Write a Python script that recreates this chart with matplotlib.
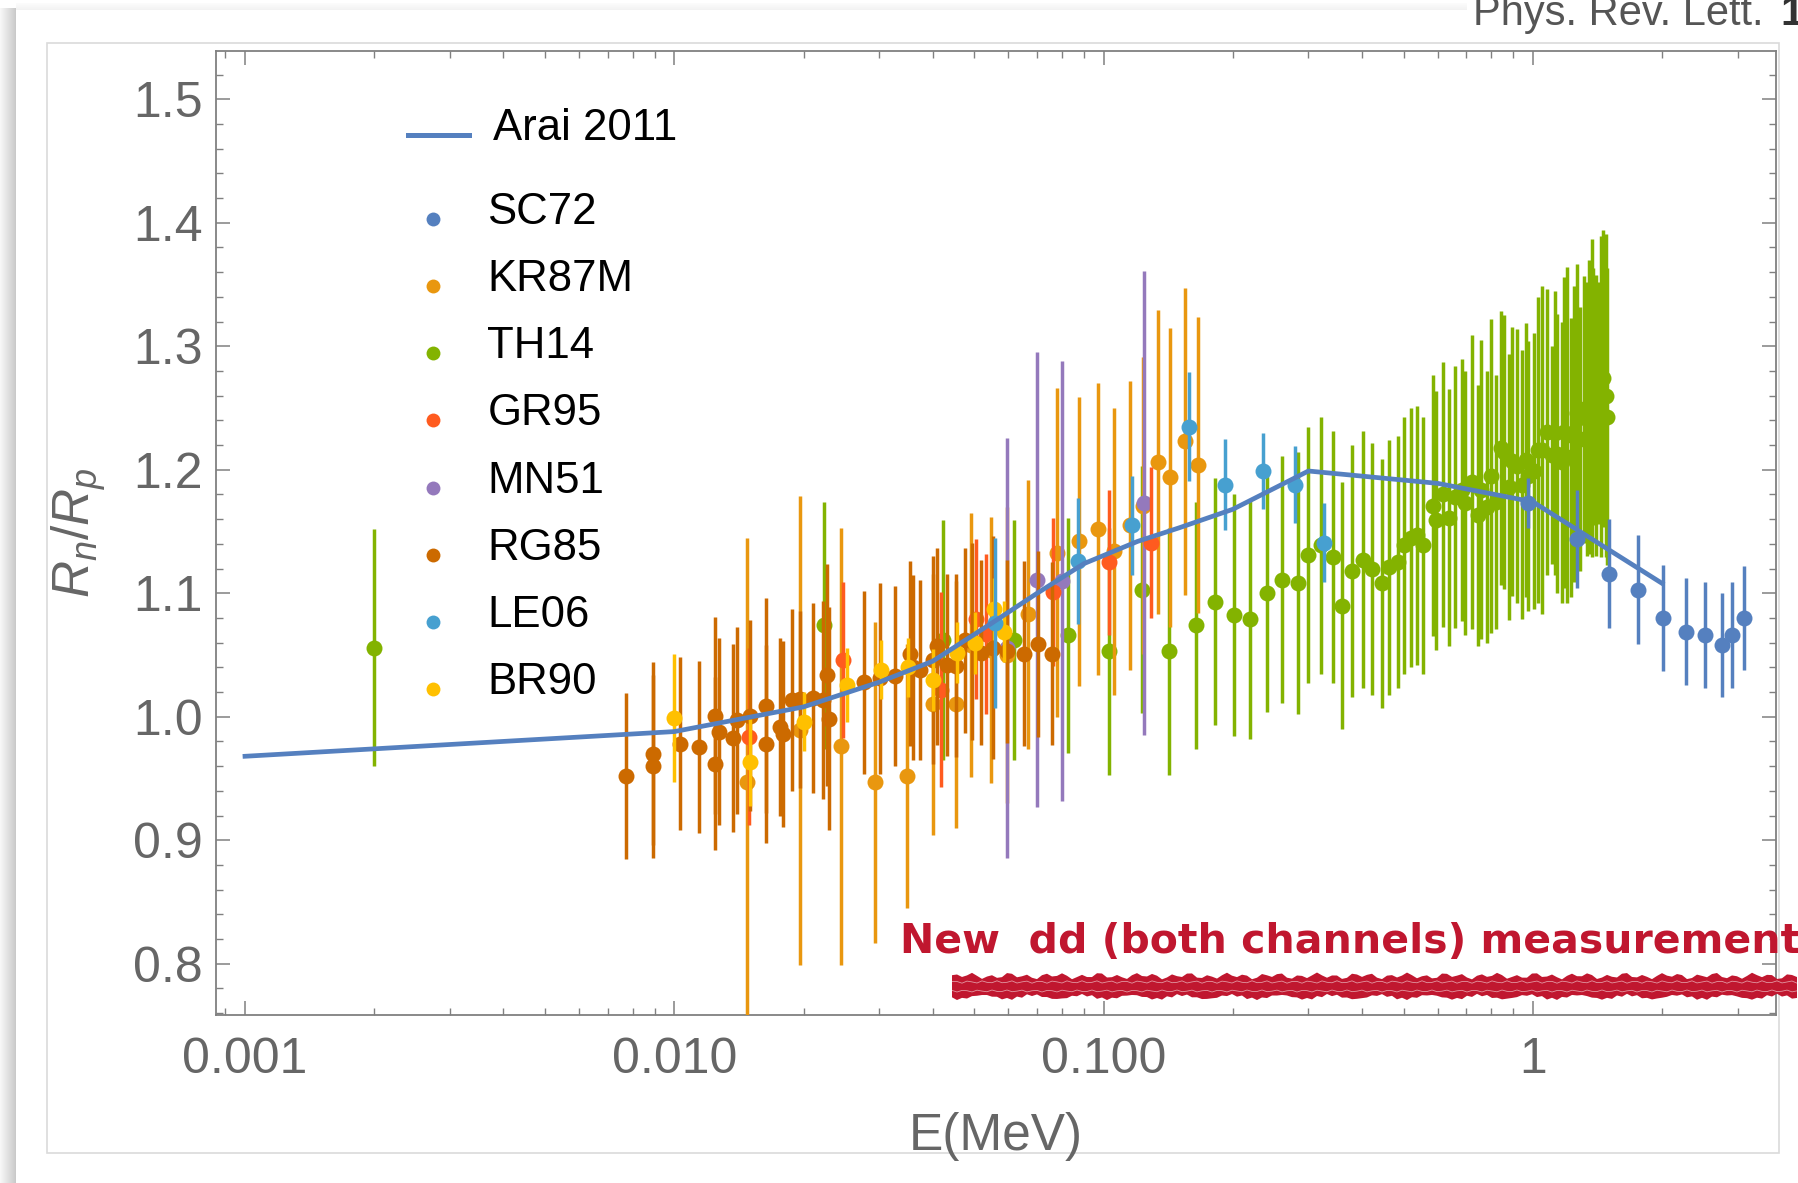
import matplotlib
matplotlib.use('Agg')
import matplotlib.pyplot as plt
from matplotlib.lines import Line2D
from matplotlib.patches import Rectangle, Polygon
from matplotlib.ticker import FixedLocator, FixedFormatter, NullFormatter
import numpy as np

plt.rcParams['font.family'] = ['Liberation Sans', 'DejaVu Sans']
plt.rcParams['mathtext.fontset'] = 'custom'
plt.rcParams['mathtext.it'] = 'Liberation Sans:italic'
plt.rcParams['mathtext.rm'] = 'Liberation Sans'

# ---------------- data ----------------
arai_E = [0.001, 0.01, 0.02, 0.03, 0.04, 0.055, 0.07, 0.09, 0.12, 0.15, 0.2, 0.3, 0.6, 1.0, 2.0]
arai_R = [0.968, 0.988, 1.008, 1.028, 1.045, 1.076, 1.100, 1.124, 1.142, 1.153, 1.168, 1.199, 1.189, 1.174, 1.108]

sc72_E = [0.976, 1.265, 1.507, 1.760, 2.013, 2.273, 2.517, 2.752, 2.903, 3.102]
sc72_R = [1.173, 1.144, 1.116, 1.103, 1.080, 1.069, 1.066, 1.058, 1.066, 1.080]
sc72_err = [0.02, 0.04, 0.044, 0.044, 0.043, 0.043, 0.043, 0.042, 0.043, 0.042]

kr87m_E = [0.0148, 0.0196, 0.0244, 0.0294, 0.0349, 0.0401, 0.0453, 0.0492, 0.0547, 0.0595,
           0.0665, 0.078, 0.0876, 0.097, 0.106, 0.1155, 0.1235, 0.134, 0.1427, 0.155, 0.1656]
kr87m_R = [0.947, 0.989, 0.976, 0.947, 0.952, 1.010, 1.010, 1.058, 1.054, 1.050,
           1.083, 1.133, 1.142, 1.152, 1.134, 1.155, 1.171, 1.206, 1.194, 1.223, 1.204]
kr87m_err = [0.198, 0.19, 0.177, 0.13, 0.107, 0.106, 0.10, 0.107, 0.108, 0.12,
             0.109, 0.133, 0.117, 0.118, 0.116, 0.117, 0.12, 0.123, 0.121, 0.124, 0.12]

th14_E = [0.002, 0.0223, 0.0423, 0.0618, 0.0828, 0.103, 0.1226, 0.142, 0.164, 0.1817,
          0.201, 0.219, 0.240, 0.261, 0.284, 0.300, 0.321, 0.343, 0.360, 0.380,
          0.401, 0.422, 0.444, 0.461, 0.484, 0.501, 0.519, 0.536, 0.556, 0.584,
          0.594, 0.616, 0.638, 0.658,
          0.683, 0.695, 0.720, 0.744, 0.757, 0.781, 0.799, 0.821, 0.842, 0.857,
          0.882, 0.893, 0.917, 0.942, 0.962, 0.976, 1.006, 1.026, 1.048, 1.081,
          1.106, 1.127, 1.141, 1.167, 1.182, 1.203, 1.225, 1.247, 1.265, 1.288,
          1.316, 1.335, 1.351, 1.371, 1.383, 1.403, 1.423, 1.439, 1.459, 1.477, 1.49]
th14_R = [1.056, 1.074, 1.062, 1.062, 1.066, 1.053, 1.103, 1.053, 1.074, 1.093,
          1.0825, 1.079, 1.100, 1.111, 1.108, 1.131, 1.139, 1.129, 1.090, 1.118,
          1.127, 1.120, 1.108, 1.121, 1.125, 1.139, 1.145, 1.147, 1.139, 1.171,
          1.159, 1.180, 1.161, 1.178,
          1.1835, 1.173, 1.190, 1.163, 1.184, 1.170, 1.195, 1.174, 1.2175, 1.2146,
          1.186, 1.207, 1.203, 1.188, 1.208, 1.195, 1.199, 1.216, 1.216, 1.2305,
          1.212, 1.230, 1.213, 1.206, 1.2305, 1.228, 1.210, 1.229, 1.246, 1.225,
          1.249, 1.241, 1.251, 1.258, 1.259, 1.244, 1.254, 1.259, 1.274, 1.260, 1.243]
th14_err = [0.096, 0.1, 0.097, 0.097, 0.095, 0.1, 0.1, 0.1, 0.1, 0.1,
            0.098, 0.097, 0.096, 0.1, 0.106, 0.104, 0.104, 0.102, 0.1, 0.102,
            0.104, 0.102, 0.101, 0.103, 0.102, 0.104, 0.105, 0.105, 0.104, 0.106,
            0.105, 0.107, 0.104, 0.106,
            0.106, 0.107, 0.119, 0.106, 0.121, 0.110, 0.127, 0.103, 0.111, 0.111,
            0.108, 0.109, 0.111, 0.109, 0.111, 0.109, 0.112, 0.124, 0.133, 0.116,
            0.088, 0.115, 0.113, 0.114, 0.126, 0.136, 0.113, 0.12, 0.121, 0.107,
            0.108, 0.111, 0.119, 0.129, 0.104, 0.114, 0.098, 0.130, 0.12, 0.131, 0.12]

gr95_E = [0.0149, 0.0247, 0.0417, 0.0504, 0.0531, 0.0763, 0.103, 0.129]
gr95_R = [0.984, 1.046, 1.022, 1.079, 1.067, 1.101, 1.125, 1.141]
gr95_err = [0.072, 0.063, 0.079, 0.065, 0.065, 0.06, 0.059, 0.061]

mn51_E = [0.0595, 0.0698, 0.080, 0.1243]
mn51_R = [1.056, 1.111, 1.110, 1.173]
mn51_err = [0.17, 0.184, 0.178, 0.188]

rg85_E = [0.00771, 0.00890, 0.00890, 0.01031, 0.01142, 0.01244, 0.01268, 0.01244, 0.01369, 0.01400,
          0.01504, 0.01638, 0.01638, 0.01764, 0.01790, 0.01885, 0.01961, 0.02107, 0.02220, 0.02264,
          0.02290, 0.02760, 0.03017, 0.03268, 0.0354, 0.0360, 0.0373, 0.0401, 0.0410, 0.0431,
          0.0453, 0.0475, 0.0494, 0.0517, 0.0553, 0.0596, 0.0651, 0.0705, 0.0757]
rg85_R = [0.952, 0.970, 0.960, 0.978, 0.9755, 1.001, 0.988, 0.962, 0.983, 0.997,
          1.001, 1.009, 0.978, 0.992, 0.986, 1.0135, 1.014, 1.0155, 1.0136, 1.034,
          0.9985, 1.028, 1.031, 1.033, 1.051, 1.040, 1.038, 1.046, 1.057, 1.042,
          1.0415, 1.062, 1.061, 1.052, 1.056, 1.053, 1.051, 1.059, 1.051]
rg85_err = [0.067, 0.074, 0.074, 0.070, 0.070, 0.080, 0.076, 0.070, 0.076, 0.076,
            0.077, 0.087, 0.080, 0.072, 0.075, 0.074, 0.072, 0.077, 0.08, 0.09,
            0.09, 0.074, 0.077, 0.073, 0.075, 0.075, 0.073, 0.084, 0.080, 0.074,
            0.074, 0.075, 0.08, 0.075, 0.09, 0.074, 0.075, 0.075, 0.074]

le06_E = [0.0558, 0.0872, 0.1163, 0.1585, 0.192, 0.2355, 0.279, 0.326]
le06_R = [1.076, 1.126, 1.155, 1.235, 1.188, 1.199, 1.188, 1.141]
le06_err = [0.069, 0.051, 0.04, 0.044, 0.037, 0.031, 0.031, 0.032]

br90_E = [0.00996, 0.0150, 0.0201, 0.0252, 0.0303, 0.0350, 0.040, 0.0456, 0.0502, 0.0556, 0.0585]
br90_R = [0.999, 0.963, 0.996, 1.026, 1.038, 1.040, 1.030, 1.052, 1.060, 1.0875, 1.069]
br90_err = [0.052, 0.035, 0.024, 0.03, 0.024, 0.024, 0.025, 0.025, 0.025, 0.025, 0.025]

series_names = ['SC72', 'KR87M', 'TH14', 'GR95', 'MN51', 'RG85', 'LE06', 'BR90']
x_tick_vals = [0.001, 0.01, 0.1, 1]
x_tick_labels = ['0.001', '0.010', '0.100', '1']
y_tick_vals = [0.8, 0.9, 1.0, 1.1, 1.2, 1.3, 1.4, 1.5]
y_tick_labels = ['0.8', '0.9', '1.0', '1.1', '1.2', '1.3', '1.4', '1.5']

colors = {
    'SC72': '#5580BF', 'KR87M': '#E9970F', 'TH14': '#83B300', 'GR95': '#FF5B1F',
    'MN51': '#9479BC', 'RG85': '#CC6A00', 'LE06': '#47A0D0', 'BR90': '#FFC000',
}
ARAI_COLOR = '#5580BF'

# ---------------- figure ----------------
W, H = 1798, 1183
fig = plt.figure(figsize=(W / 100, H / 100), dpi=100)
fig.patch.set_facecolor('white')


def fx(px):
    return px / W


def fy(py):
    return 1 - py / H


# page shadow (left and top)
for i in range(16):
    g = 0.97 - 0.012 * i
    fig.add_artist(Rectangle((fx(i), 0), fx(1), fy(8), transform=fig.transFigure,
                             facecolor=(g, g, g), edgecolor='none', zorder=0))
for j in range(7):
    g = 0.985 - 0.006 * j
    fig.add_artist(Rectangle((fx(16), fy(3 + j + 1)), fx(1467) - fx(16), 1 / H,
                             transform=fig.transFigure, facecolor=(g, g, g),
                             edgecolor='none', zorder=0))

# light border of the inner picture
fig.add_artist(Rectangle((fx(47), fy(1153)), fx(1779) - fx(47), fy(43) - fy(1153),
                         transform=fig.transFigure, fill=False, edgecolor='#dadada',
                         linewidth=1.2, zorder=0.5))

ax = fig.add_axes([fx(215.6), fy(1015), fx(1776) - fx(215.6), fy(51) - fy(1015)])
ax.set_zorder(1)
ax.set_xscale('log')
ax.set_xlim(10 ** -3.0685, 10 ** 0.5663)
ax.set_ylim(0.7585, 1.5391)

data = {
    'SC72': (sc72_E, sc72_R, sc72_err, 10),
    'KR87M': (kr87m_E, kr87m_R, kr87m_err, 4),
    'TH14': (th14_E, th14_R, th14_err, 3),
    'GR95': (gr95_E, gr95_R, gr95_err, 6),
    'MN51': (mn51_E, mn51_R, mn51_err, 5),
    'RG85': (rg85_E, rg85_R, rg85_err, 7),
    'LE06': (le06_E, le06_R, le06_err, 9),
    'BR90': (br90_E, br90_R, br90_err, 8),
}
for name in series_names:
    E, R, err, z = data[name]
    ax.errorbar(E, R, yerr=err, fmt='o', color=colors[name], ms=11.5, mew=0,
                elinewidth=2.5, capsize=0, zorder=z)

ax.plot(arai_E, arai_R, color=ARAI_COLOR, lw=3.4, zorder=11, solid_joinstyle='round')

# axes styling
frame_c = '#808080'
for s in ax.spines.values():
    s.set_color(frame_c)
    s.set_linewidth(1.3)
ax.xaxis.set_major_locator(FixedLocator(x_tick_vals))
ax.xaxis.set_major_formatter(FixedFormatter(x_tick_labels))
minors = [m * 10.0 ** d for d in range(-4, 1) for m in range(2, 10)]
ax.xaxis.set_minor_locator(FixedLocator(minors))
ax.xaxis.set_minor_formatter(NullFormatter())
ax.yaxis.set_major_locator(FixedLocator(y_tick_vals))
ax.yaxis.set_major_formatter(FixedFormatter(y_tick_labels))
ax.yaxis.set_minor_locator(FixedLocator([round(0.76 + 0.02 * k, 2) for k in range(40)]))
ax.tick_params(which='both', direction='in', top=True, right=True, color=frame_c,
               labelcolor='#666666', labelsize=36)
ax.tick_params(which='major', length=10, width=1.1)
ax.tick_params(which='minor', length=5, width=1.0)
ax.tick_params(axis='x', which='major', pad=15.6)
ax.tick_params(axis='y', which='major', pad=9.2)

ax.set_xlabel('E(MeV)', fontsize=37, color='#666666')
ax.xaxis.set_label_coords(0.5, (1015 - 1112) / 964)
ax.set_ylabel(r'$R_n/R_p$', fontsize=37, color='#666666')
ax.yaxis.set_label_coords((79 - 215.6) / 1560.4, 0.5)
ax.yaxis.label.set_va('center')

# ---------------- legend (drawn in figure space) ----------------
fig.add_artist(Line2D([fx(408), fx(469)], [fy(135), fy(135)], color=ARAI_COLOR, lw=3.6,
                      transform=fig.transFigure, zorder=5))
fig.text(fx(493), fy(140), 'Arai 2011', fontsize=31.5, color='black', va='baseline', zorder=5)
for k, name in enumerate(series_names):
    yd = 218.8 + 67.2 * k
    fig.add_artist(Line2D([fx(433)], [fy(yd)], marker='o', ms=10, mew=0,
                          color=colors[name], transform=fig.transFigure, zorder=5))
    fig.text(fx(487.5), fy(yd + 5), name, fontsize=31.5, color='black', va='baseline', zorder=5)

# ---------------- annotations ----------------
fig.text(fx(1472.7), fy(25), 'Phys. Rev. Lett. ', fontsize=30, color='#555555', va='baseline')
fig.text(fx(1780), fy(25), '1', fontsize=30, color='#333333', fontweight='bold', va='baseline')

RED = '#C0172F'
fig.text(fx(900), fy(953), 'New  dd (both channels) measurements', fontsize=29.5,
         fontweight='bold', color=RED, va='baseline', family='DejaVu Sans', zorder=20)

# scribbled underline
xs = np.arange(952, 1802, 5.0)
top = 976 + 2.2 * np.sin(xs * 0.91) + 1.3 * np.sin(xs * 2.37)
bot = 997 + 2.0 * np.sin(xs * 1.13 + 1.0) + 1.2 * np.sin(xs * 3.1)
poly = np.vstack([np.column_stack([fx(xs), fy(top)]),
                  np.column_stack([fx(xs[::-1]), fy(bot[::-1])])])
fig.add_artist(Polygon(poly, closed=True, transform=fig.transFigure, facecolor=RED,
                       edgecolor='none', zorder=20))
for yy, amp, ph in [(982, 1.2, 0.0), (991, 1.0, 2.0)]:
    ww = 1.0 * np.sin(xs * 1.7 + ph) * amp
    fig.add_artist(Line2D(fx(xs), fy(yy + ww), color='white', lw=0.6, alpha=0.55,
                          transform=fig.transFigure, zorder=21))

fig.savefig('out.png', dpi=100)
